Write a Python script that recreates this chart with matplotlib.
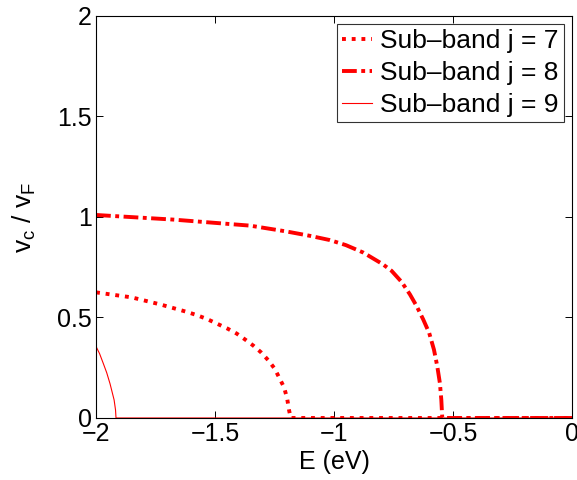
import matplotlib
matplotlib.use("Agg")
import matplotlib.pyplot as plt

plt.rcParams['font.family'] = ['Liberation Sans', 'DejaVu Sans']
plt.rcParams['mathtext.fontset'] = 'custom'
plt.rcParams['mathtext.rm'] = 'Liberation Sans'
plt.rcParams['mathtext.it'] = 'Liberation Sans'

# Group velocity (normalised to v_F) of each sub-band versus energy
E7 = [-2.0, -1.85, -1.73, -1.619, -1.577, -1.535, -1.493, -1.448, -1.409, -1.373,
      -1.339, -1.307, -1.276, -1.249, -1.230, -1.210, -1.197, -1.189, -1.182, -1.0, -0.5, 0.0]
v7 = [0.625, 0.60, 0.565, 0.528, 0.512, 0.493, 0.470, 0.445, 0.420, 0.390,
      0.360, 0.327, 0.287, 0.245, 0.200, 0.153, 0.098, 0.040, 0.0, 0.0, 0.0, 0.0]

E8 = [-2.0, -1.675, -1.353, -1.2, -1.1, -1.017, -0.95, -0.877, -0.795, -0.758, -0.716, -0.681,
      -0.653, -0.625, -0.600, -0.580, -0.566, -0.555, -0.549, -0.546, -0.545, -0.3, 0.0]
v8 = [1.01, 0.987, 0.957, 0.928, 0.906, 0.885, 0.86, 0.823, 0.765, 0.732, 0.677, 0.615,
      0.557, 0.490, 0.423, 0.340, 0.257, 0.173, 0.090, 0.020, 0.0, 0.0, 0.0]

E9 = [-2.0, -1.985, -1.969, -1.955, -1.941, -1.924, -1.918, -1.916, -1.5, -1.0, 0.0]
v9 = [0.356, 0.32, 0.27, 0.225, 0.17, 0.09, 0.04, 0.0, 0.0, 0.0, 0.0]

labels = ['Sub\u2013band j = 7', 'Sub\u2013band j = 8', 'Sub\u2013band j = 9']
xticks = [-2, -1.5, -1, -0.5, 0]
xtick_labels = ['\u22122', '\u22121.5', '\u22121', '\u22120.5', '0']
yticks = [0, 0.5, 1, 1.5, 2]
ytick_labels = ['0', '0.5', '1', '1.5', '2']

FS = 18

fig = plt.figure(figsize=(5.77, 4.8), dpi=100)
ax = fig.add_axes([0.1664, 0.1292, 0.8249, 0.8375])

ax.plot(E7, v7, color='red', lw=2.8, linestyle=(0, (1.0, 1.5)), label=labels[0])
ax.plot(E8, v8, color='red', lw=2.8, linestyle=(0, (3.8, 1.15, 1.0, 1.15)), label=labels[1])
ax.plot(E9, v9, color='red', lw=0.8, linestyle='-', label=labels[2])

ax.set_xlim(-2, 0)
ax.set_ylim(0, 2)
ax.set_xticks(xticks)
ax.set_xticklabels(xtick_labels)
ax.set_yticks(yticks)
ax.set_yticklabels(ytick_labels)
ax.tick_params(direction='in', length=5, width=0.7, top=True, right=True,
               labelsize=FS, pad=3)
for s in ax.spines.values():
    s.set_linewidth(0.8)

ax.set_xlabel('E (eV)', fontsize=FS, labelpad=3)
ax.set_ylabel(r'v$_\mathregular{c}$ / v$_\mathregular{F}$', fontsize=FS + 1, labelpad=14)

leg = ax.legend(loc='upper right', fontsize=FS + 1, frameon=True, fancybox=False,
                edgecolor='black', handlelength=1.15, handletextpad=0.3,
                borderpad=0.2, labelspacing=0.3, borderaxespad=0.3)
leg.get_frame().set_linewidth(0.8)

fig.savefig('out.png', dpi=100)
